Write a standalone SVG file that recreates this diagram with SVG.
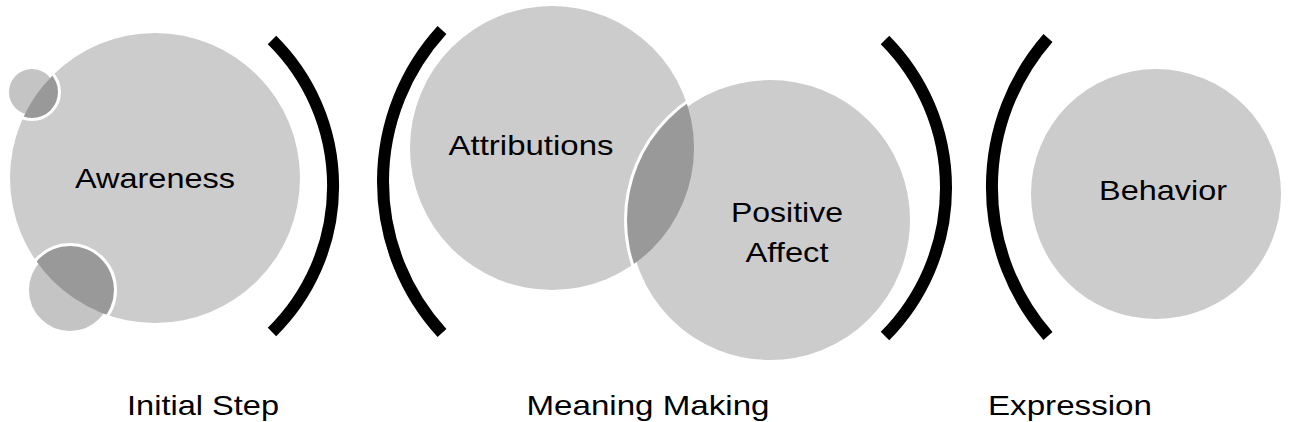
<svg xmlns="http://www.w3.org/2000/svg" width="1292" height="422" viewBox="0 0 1292 422">
<style>
.c{fill:#cccccc}.d{fill:#999999}.s{fill:#c4c4c4;stroke:#fff;stroke-width:6}
.b{fill:none;stroke:#000;stroke-width:12}
text{font-family:"Liberation Sans",Arial,sans-serif;font-size:28px;fill:#000;text-anchor:middle}
</style>
<defs>
<clipPath id="ct"><circle cx="32" cy="92" r="26"/></clipPath>
<clipPath id="cb"><circle cx="70" cy="290" r="44"/></clipPath>
<clipPath id="cp"><circle cx="770" cy="220" r="143"/></clipPath>
</defs>
<rect width="1292" height="422" fill="#fff"/>
<g id="awareness">
<circle class="c" cx="155" cy="178" r="145"/>
<text x="155" y="188" textLength="160" lengthAdjust="spacingAndGlyphs">Awareness</text>
</g>
<g id="small-top">
<circle class="s" cx="32" cy="92" r="26"/>
<circle class="d" cx="155" cy="178" r="145" clip-path="url(#ct)"/>
</g>
<g id="small-bottom">
<circle class="s" cx="70" cy="290" r="44"/>
<circle class="d" cx="155" cy="178" r="145" clip-path="url(#cb)"/>
</g>
<g id="attributions">
<circle class="c" cx="552" cy="148" r="142"/>
</g>
<g id="positive-affect">
<circle class="c" cx="770" cy="220" r="143" stroke="#fff" stroke-width="6"/>
<circle class="d" cx="552" cy="148" r="142" clip-path="url(#cp)"/>
<text x="787" y="222" textLength="112" lengthAdjust="spacingAndGlyphs">Positive</text>
<text x="787" y="262" textLength="83" lengthAdjust="spacingAndGlyphs">Affect</text>
</g>
<text x="531" y="155" textLength="165" lengthAdjust="spacingAndGlyphs">Attributions</text>
<g id="behavior">
<circle class="c" cx="1156" cy="194" r="125"/>
<text x="1163" y="200" textLength="128" lengthAdjust="spacingAndGlyphs">Behavior</text>
</g>
<g id="connectors">
<path class="b" d="M272 40 A205 205 0 0 1 272 332"/>
<path class="b" d="M442 30 A224 224 0 0 0 442 333"/>
<path class="b" d="M885 40 A210 210 0 0 1 885 336"/>
<path class="b" d="M1048 38 A226 226 0 0 0 1048 336"/>
</g>
<text x="203" y="415" textLength="152" lengthAdjust="spacingAndGlyphs">Initial Step</text>
<text x="648" y="415" textLength="243" lengthAdjust="spacingAndGlyphs">Meaning Making</text>
<text x="1070" y="415" textLength="164" lengthAdjust="spacingAndGlyphs">Expression</text>
</svg>
